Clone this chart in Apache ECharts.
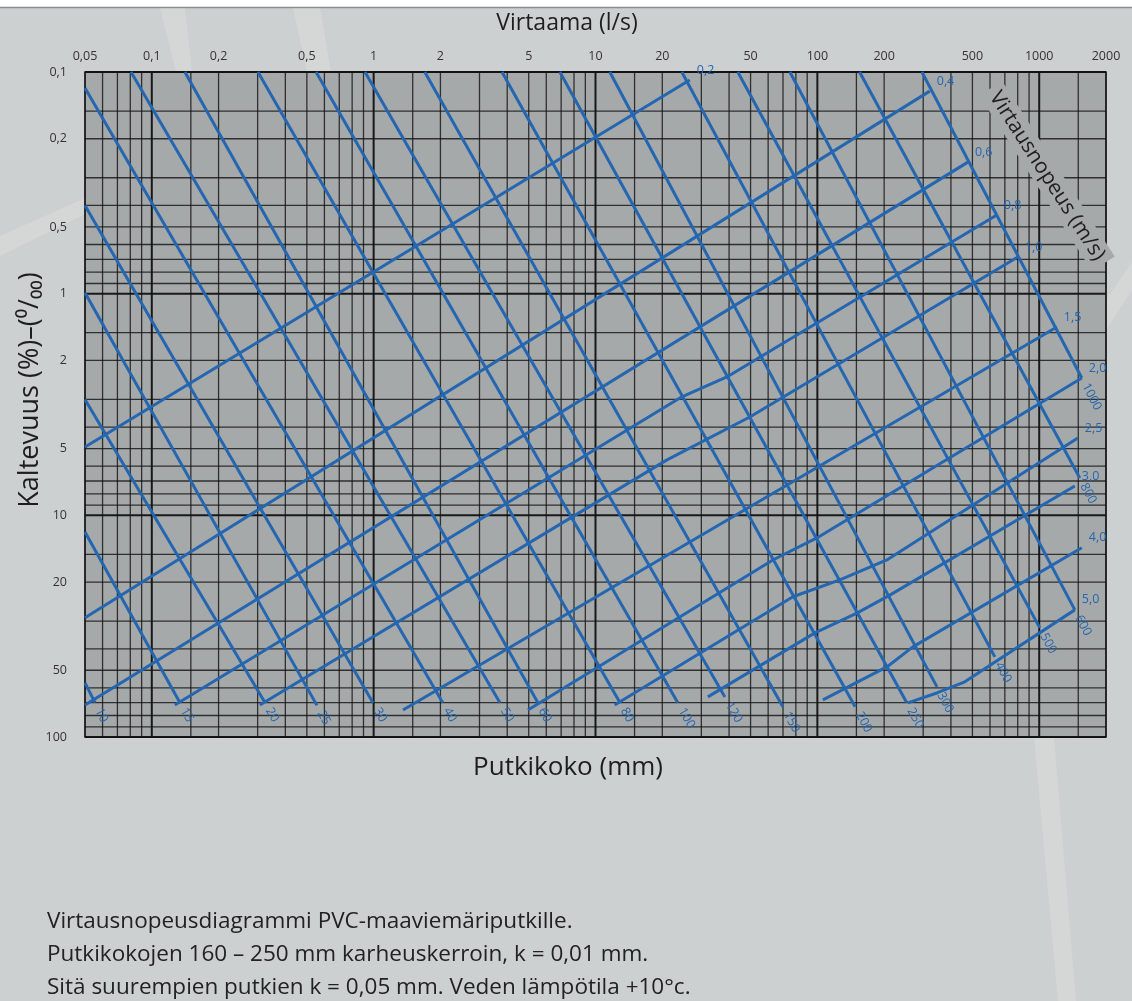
<!DOCTYPE html>
<html><head><meta charset="utf-8">
<script src="https://cdn.jsdelivr.net/npm/echarts@6/dist/echarts.min.js"></script>
<style>html,body{margin:0;padding:0;background:#cdd0d0}#c{width:1132px;height:1001px}</style>
</head><body><div id="c"></div>
<script>
// ---------- DATA ----------
const flowTicks  = [0.05,0.1,0.2,0.5,1,2,5,10,20,50,100,200,500,1000,2000];   // l/s
const slopeTicks = [0.1,0.2,0.5,1,2,5,10,20,50,100];                          // % / ‰

const diameterLabels    = ['10','15','20','25','30','40','50','60','80','100','120','150','200','250','300','400','500','600','800','1000'];
const diameterStartFlow = [0.05,0.05,0.05,0.05,0.05,0.05,0.0806,0.141,0.301,0.550,0.914,1.70,3.79,6.91,11.6,24.5,43.8,75.2,155,296];
const diameterStartSlope= [57,11.9,3.0,0.99,0.40,0.118,0.1,0.1,0.1,0.1,0.1,0.1,0.1,0.1,0.1,0.1,0.1,0.1,0.1,0.1];
const diameterEndFlow   = [0.0555,0.134,0.324,0.555,0.993,2.05,3.71,5.50,12.9,23.5,38.3,69.9,148,253,346,631,1006,1447,1524,1556];
const diameterEndSlope  = [70,70,70,72,70,70,70,70,70,70,66,73,73,70,59.4,43.5,32.2,26.7,6.78,2.40];

const velocityLabels = ['0,2','0,4','0,6','0,8','1,0','1,5','2,0','2,5','3,0','4,0','5,0'];
const velocityPoints = [
  [[0.05,4.92],[26.6,0.1087]],
  [[0.05,29.0],[321,0.122]],
  [[0.05,71.7],[477,0.255]],
  [[0.127,71.7],[24.5,2.92],[39.1,2.375],[644,0.442]],
  [[0.307,71.7],[21.0,5.62],[49.6,3.60],[801,0.683]],
  [[1.356,75.5],[1201,1.413]],
  [[4.96,75.5],[63.0,15.9],[99.5,12.65],[1556,2.40]],
  [[12.2,71.7],[77.6,23.3],[126.3,19.56],[205.7,15.9],[1493,4.48]],
  [[32.1,65.9],[97.5,33.9],[150.7,27.6],[212.2,22.9],[1447,7.37]],
  [[105.9,68],[205.7,48.3],[269.4,39.2],[1556,14.0]],
  [[255.8,70.2],[345.6,63.3],[462,56.4],[1447,26.7]]
];

// ---------- STYLE ----------
const BLUE = '#2566b1';
const PLOT_BG = '#a6a9a9';
const PAGE_BG = '#cdd0d0';
const FONT = '"Open Sans", "Noto Sans", sans-serif';
const X_MIN = 0.05, X_MAX = 2000, Y_MIN = 0.1, Y_MAX = 100;

function fmt(v){ const s = +(+v).toPrecision(4); return String(s).replace('.', ','); }

// log grid values (multiples 1..9 and 1.5 per decade)
function gridValues(lo, hi){
  const out = [];
  for (let e = -3; e <= 4; e++){
    const d = Math.pow(10, e);
    [1,1.5,2,3,4,5,6,7,8,9].forEach(m => {
      const v = +(m*d).toPrecision(6);
      if (v >= lo*0.9999 && v <= hi*1.0001) out.push([v, m === 1 ? 2 : 1]);
    });
  }
  return out;
}
const vGrid = gridValues(X_MIN, X_MAX);
const hGrid = gridValues(Y_MIN, Y_MAX);

const chart = echarts.init(document.getElementById('c'), null, {renderer:'canvas'});

const velocitySeries = velocityPoints.map((pts, i) => ({
  type:'line', name:'v'+velocityLabels[i], data: pts, symbol:'none', silent:true, z:5,
  lineStyle:{color:BLUE, width:3, cap:'butt', join:'round'}, animation:false
}));

const band = 'rgba(255,255,255,0.16)';
const option = {
  animation:false,
  backgroundColor: PAGE_BG,
  grid:{left:85, top:72, right:26, bottom:264, show:true, backgroundColor:PLOT_BG, borderColor:'#1b1b1b', borderWidth:1.5},
  xAxis:{type:'log', logBase:10, min:X_MIN, max:X_MAX, position:'top',
    axisLine:{show:false}, axisTick:{show:false}, splitLine:{show:false}, minorTick:{show:false},
    axisLabel:{customValues: flowTicks, formatter: fmt, color:'#333', fontSize:12.5, margin:9, fontFamily:FONT}},
  yAxis:{type:'log', logBase:10, min:Y_MIN, max:Y_MAX, inverse:true,
    axisLine:{show:false}, axisTick:{show:false}, splitLine:{show:false}, minorTick:{show:false},
    axisLabel:{customValues: slopeTicks, formatter: fmt, color:'#333', fontSize:12.5, margin:18, fontFamily:FONT}},
  graphic:[
    {type:'rect', z:-5, shape:{x:0,y:0,width:1132,height:7}, style:{fill:'#ffffff'}},
    {type:'line', z:-5, shape:{x1:0,y1:7.5,x2:1132,y2:7.5}, style:{stroke:'#8a8d8d', lineWidth:1.5}},
    {type:'polygon', z:-4, shape:{points:[[160,8],[185,8],[192,72],[176,72]]}, style:{fill:band}},
    {type:'polygon', z:-4, shape:{points:[[293,8],[320,8],[331,72],[307,72]]}, style:{fill:band}},
    {type:'polygon', z:-4, shape:{points:[[0,236],[85,198],[85,214],[0,256]]}, style:{fill:band}},
    {type:'polygon', z:-4, shape:{points:[[1034,737],[1054,737],[1076,1001],[1058,1001]]}, style:{fill:band}},
    {type:'polygon', z:-4, shape:{points:[[1106,300],[1132,262],[1132,290],[1106,330]]}, style:{fill:band}},
    {type:'text', z:10, x:567, y:23, style:{text:'Virtaama (l/s)', font:'23px '+FONT, fill:'#1e1e1e', align:'center', verticalAlign:'middle'}},
    {type:'text', z:10, x:568, y:768, style:{text:'Putkikoko (mm)', font:'26px '+FONT, fill:'#1e1e1e', align:'center', verticalAlign:'middle'}},
    {type:'text', z:10, x:30, y:390, rotation:Math.PI/2, style:{text:'Kaltevuus (%)–(⁰/₀₀)', font:'27px '+FONT, fill:'#1e1e1e', align:'center', verticalAlign:'middle'}},
    {type:'text', z:2, x:1047, y:176, rotation:-1.0, style:{text:'Virtausnopeus (m/s)', font:'21px '+FONT, fill:'#1e1e1e', align:'center', verticalAlign:'middle', backgroundColor:PLOT_BG, padding:[3,6]}},
    {type:'text', z:10, x:47, y:922, style:{text:'Virtausnopeusdiagrammi PVC-maaviemäriputkille.', font:'22.5px '+FONT, fill:'#222', align:'left', verticalAlign:'middle'}},
    {type:'text', z:10, x:47, y:955, style:{text:'Putkikokojen 160 – 250 mm karheuskerroin, k = 0,01 mm.', font:'22.5px '+FONT, fill:'#222', align:'left', verticalAlign:'middle'}},
    {type:'text', z:10, x:47, y:988, style:{text:'Sitä suurempien putkien k = 0,05 mm. Veden lämpötila +10°c.', font:'22.5px '+FONT, fill:'#222', align:'left', verticalAlign:'middle'}}
  ],
  series:[
    { type:'custom', name:'vgrid', coordinateSystem:'cartesian2d', silent:true, z:1, data:vGrid,
      renderItem:(p, api) => {
        const v = api.value(0), w = api.value(1);
        const a = api.coord([v, Y_MIN]), b = api.coord([v, Y_MAX]);
        return {type:'line', shape:{x1:a[0],y1:a[1],x2:b[0],y2:b[1]}, style:{stroke:'#111', lineWidth: w===2?2:1.3, opacity: w===2?0.95:0.8}};
      }},
    { type:'custom', name:'hgrid', coordinateSystem:'cartesian2d', silent:true, z:1, data:hGrid.map(d => [X_MIN, d[0], d[1]]),
      renderItem:(p, api) => {
        const v = api.value(1), w = api.value(2);
        const a = api.coord([X_MIN, v]), b = api.coord([X_MAX, v]);
        return {type:'line', shape:{x1:a[0],y1:a[1],x2:b[0],y2:b[1]}, style:{stroke:'#111', lineWidth: w===2?2:1.3, opacity: w===2?0.95:0.8}};
      }},
    { type:'custom', name:'diameters', coordinateSystem:'cartesian2d', silent:true, z:5, clip:false,
      data: diameterLabels.map((l, i) => [diameterStartFlow[i], diameterStartSlope[i], diameterEndFlow[i], diameterEndSlope[i]]),
      renderItem:(p, api) => {
        const p1 = api.coord([api.value(0), api.value(1)]);
        const p2 = api.coord([api.value(2), api.value(3)]);
        const dx = p2[0]-p1[0], dy = p2[1]-p1[1], L = Math.hypot(dx, dy), ux = dx/L, uy = dy/L;
        return {type:'group', children:[
          {type:'line', shape:{x1:p1[0],y1:p1[1],x2:p2[0],y2:p2[1]}, style:{stroke:BLUE, lineWidth:3}},
          {type:'text', x:p2[0]+ux*7, y:p2[1]+uy*7, rotation:-Math.atan2(uy, ux),
           style:{text:diameterLabels[p.dataIndex], fill:BLUE, font:'12.5px '+FONT, align:'left', verticalAlign:'middle'}}
        ]};
      }},
    ...velocitySeries,
    { type:'custom', name:'vlabels', coordinateSystem:'cartesian2d', silent:true, z:6, clip:false,
      data: velocityPoints.map(pts => pts[pts.length-1]),
      renderItem:(p, api) => {
        const c = api.coord([api.value(0), api.value(1)]);
        return {type:'text', x:c[0]+7, y:c[1]-10, style:{text:velocityLabels[p.dataIndex], fill:BLUE, font:'12.5px '+FONT, align:'left', verticalAlign:'middle'}};
      }}
  ]
};
chart.setOption(option);
</script></body></html>
